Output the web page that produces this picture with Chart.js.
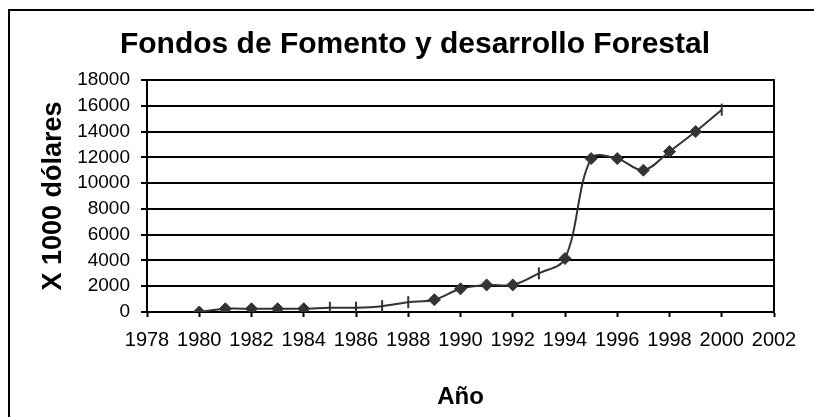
<!DOCTYPE html>
<html>
<head>
<meta charset="utf-8">
<script src="https://cdn.jsdelivr.net/npm/chart.js@4"></script>
<style>
  html, body { margin: 0; padding: 0; background: #fff; }
  canvas { display: block; }
</style>
</head>
<body>
<canvas id="fondosChart" width="814" height="417"></canvas>
<script>
// data
const years = [1980, 1981, 1982, 1983, 1984, 1985, 1986, 1987, 1988, 1989, 1990,
               1991, 1992, 1993, 1994, 1995, 1996, 1997, 1998, 1999, 2000];
const fondos = [0, 250, 250, 250, 250, 330, 330, 450, 760, 950, 1800,
                2100, 2100, 3000, 4150, 11900, 11900, 11000, 12450, 14000, 15700];
// years drawn with a vertical dash instead of a diamond
const dashYears = [1985, 1986, 1987, 1988, 1993, 2000];

const chartTitle = 'Fondos de Fomento y desarrollo Forestal';
const xTitle = 'Año';
const yTitle = 'X 1000 dólares';

const fontFamily = '"Liberation Sans", Arial, sans-serif';
const lineColor = '#333333';

const points = years.map((y, i) => ({ x: y, y: fondos[i] }));

// outer frame + right edge of plot area
const framePlugin = {
    id: 'frame',
    afterDraw(chart) {
        const c = chart.ctx;
        const a = chart.chartArea;
        c.save();
        c.strokeStyle = '#000';
        c.lineWidth = 2;
        c.strokeRect(9, 10, 900, 500);
        c.beginPath();
        c.moveTo(a.right, a.top - 1);
        c.lineTo(a.right, a.bottom);
        c.stroke();
        c.restore();
    }
};

const ctx = document.getElementById('fondosChart').getContext('2d');

new Chart(ctx, {
    type: 'line',
    data: {
        datasets: [{
            data: points,
            borderColor: lineColor,
            borderWidth: 2,
            backgroundColor: lineColor,
            tension: 0.35,
            pointStyle: c => dashYears.includes(years[c.dataIndex]) ? 'line' : 'rectRot',
            pointRotation: c => dashYears.includes(years[c.dataIndex]) ? 90 : 0,
            pointRadius: 6,
            pointBorderWidth: c => dashYears.includes(years[c.dataIndex]) ? 2 : 1,
            pointBackgroundColor: lineColor,
            pointBorderColor: lineColor
        }]
    },
    options: {
        responsive: false,
        animation: false,
        layout: { padding: { left: 16, right: 0, top: 0, bottom: 0 } },
        plugins: {
            legend: { display: false },
            tooltip: { enabled: false },
            title: {
                display: true,
                text: chartTitle,
                color: '#000',
                font: { family: fontFamily, size: 30, weight: 'bold' },
                padding: { top: 27, bottom: 17 }
            }
        },
        scales: {
            x: {
                type: 'linear',
                min: 1978,
                max: 2002,
                afterFit: s => { s.height = 105; },
                ticks: {
                    stepSize: 2,
                    color: '#000',
                    padding: 11,
                    maxRotation: 0,
                    autoSkip: false,
                    font: { family: fontFamily, size: 20 },
                    callback: v => String(v)
                },
                grid: {
                    drawOnChartArea: false,
                    drawTicks: true,
                    tickLength: 5,
                    tickWidth: 2,
                    color: '#000'
                },
                border: { color: '#000', width: 2 },
                title: {
                    display: true,
                    text: xTitle,
                    color: '#000',
                    font: { family: fontFamily, size: 24, weight: 'bold' },
                    padding: { top: 0, bottom: 5 }
                }
            },
            y: {
                min: 0,
                max: 18000,
                afterFit: s => { s.width = 131; },
                ticks: {
                    stepSize: 2000,
                    autoSkip: false,
                    color: '#000',
                    padding: 11,
                    font: { family: fontFamily, size: 19 },
                    callback: v => String(v)
                },
                grid: {
                    color: '#000',
                    lineWidth: 2,
                    drawTicks: true,
                    tickLength: 6,
                    tickWidth: 2
                },
                border: { color: '#000', width: 2 },
                title: {
                    display: true,
                    text: yTitle,
                    color: '#000',
                    font: { family: fontFamily, size: 27, weight: 'bold' },
                    padding: { top: 21, bottom: 0 }
                }
            },
            // empty right-hand axis, only reserves the space right of the plot
            y2: {
                position: 'right',
                min: 0,
                max: 18000,
                afterFit: s => { s.width = 40; },
                ticks: { display: false },
                grid: { display: false },
                border: { display: false }
            }
        }
    },
    plugins: [framePlugin]
});
</script>
</body>
</html>
